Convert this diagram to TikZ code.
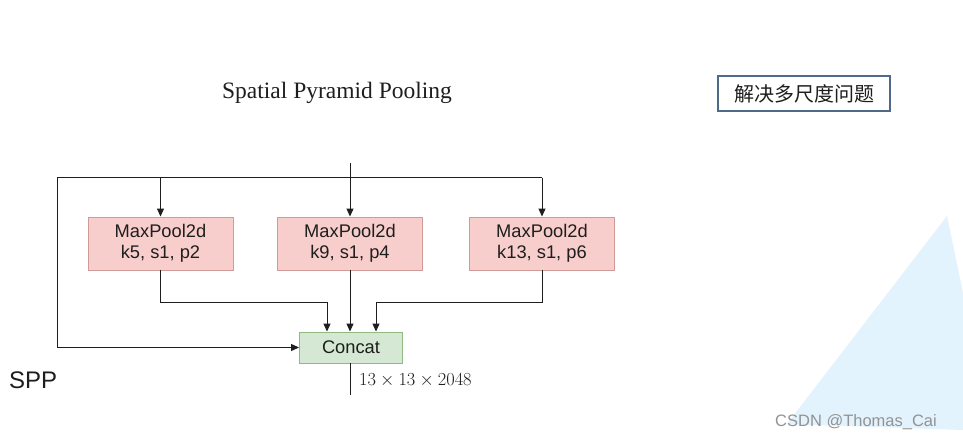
\RequirePackage{fix-cm}
\documentclass[tikz,border=0pt]{standalone}
\usepackage{fontspec}
\setmainfont{Liberation Serif}
\newfontfamily\arialf{Liberation Sans}
\newfontfamily\cjk{Noto Sans CJK SC}
\usetikzlibrary{arrows.meta,calc}
\definecolor{pinkfill}{HTML}{F8CECC}
\definecolor{pinkdraw}{HTML}{D09A97}
\definecolor{greenfill}{HTML}{D5E8D4}
\definecolor{greendraw}{HTML}{8FB882}
\definecolor{linecol}{HTML}{1E1E1E}
\definecolor{trifill}{HTML}{E2F3FD}
\definecolor{boxblue}{HTML}{4F6A88}
\begin{document}
\begin{tikzpicture}[x=1pt,y=-1pt,
  poolbox/.style={draw=pinkdraw,fill=pinkfill,line width=0.9pt,minimum width=145pt,minimum height=53pt,inner sep=0pt,align=center,font=\arialf\fontsize{18.3}{21}\selectfont,text=linecol},
  catbox/.style={draw=greendraw,fill=greenfill,line width=0.9pt,minimum width=103pt,minimum height=31pt,inner sep=0pt,font=\arialf\fontsize{18.3}{21}\selectfont,text=linecol},
  conn/.style={draw=linecol,line width=1pt},
  arr/.style={conn,-{Triangle[length=8pt,width=7pt]}}]
\useasboundingbox (0,0) rectangle (963,438);
\fill[white] (0,0) rectangle (963,438);
% background triangle
\fill[trifill] (787,424) -- (947,216) -- (963,293) -- (963,430) -- cycle;
% title
\node[font=\fontsize{23.5}{26}\selectfont,text=linecol] (title) at (337,93) {Spatial Pyramid Pooling};
% chinese box
\node[draw=boxblue,line width=1.3pt,minimum width=172pt,minimum height=35pt,inner sep=0pt,font=\cjk\fontsize{20}{22}\selectfont,text=linecol] (note) at (804,93.5) {解决多尺度问题};
% pool boxes
\node[poolbox] (p1) at (160.5,243.5) {MaxPool2d\\k5, s1, p2};
\node[poolbox] (p2) at (350,243.5) {MaxPool2d\\k9, s1, p4};
\node[poolbox] (p3) at (542,243.5) {MaxPool2d\\k13, s1, p6};
\node[catbox] (cc) at (351,347.5) {Concat};
% coordinates
\coordinate (in) at (350,163);
\coordinate (tl) at (57,178);
\coordinate (tr) at (542,178);
\coordinate (j1) at (327,302);
\coordinate (j3) at (376,302);
\coordinate (out) at (350,395);
% connectors
\draw[conn] (tl) -- (tr);
\draw[arr] (in) -- (p2.north);
\draw[arr] (p1.north |- tl) -- (p1.north);
\draw[arr] (tr) -- (p3.north);
\draw[arr] (tl) |- (cc.west);
\draw[arr] (p1.south) |- (j1) -- (j1 |- cc.north);
\draw[arr] (p2.south) -- (p2.south |- cc.north);
\draw[arr] (p3.south) |- (j3) -- (j3 |- cc.north);
\draw[conn] (out |- cc.south) -- (out);
% labels
\node[anchor=west,inner sep=0pt,font=\fontsize{18.4}{20}\selectfont,text=linecol] (dim) at (359,380) {$13\times13\times2048$};
\node[anchor=west,inner sep=0pt,font=\arialf\fontsize{24}{26}\selectfont,text=linecol] (spp) at (9,380) {SPP};
\node[anchor=west,inner sep=0pt,font=\arialf\fontsize{16.5}{18}\selectfont,text=gray!85] (wm) at (775,422) {CSDN @Thomas\_Cai};
\end{tikzpicture}
\end{document}
